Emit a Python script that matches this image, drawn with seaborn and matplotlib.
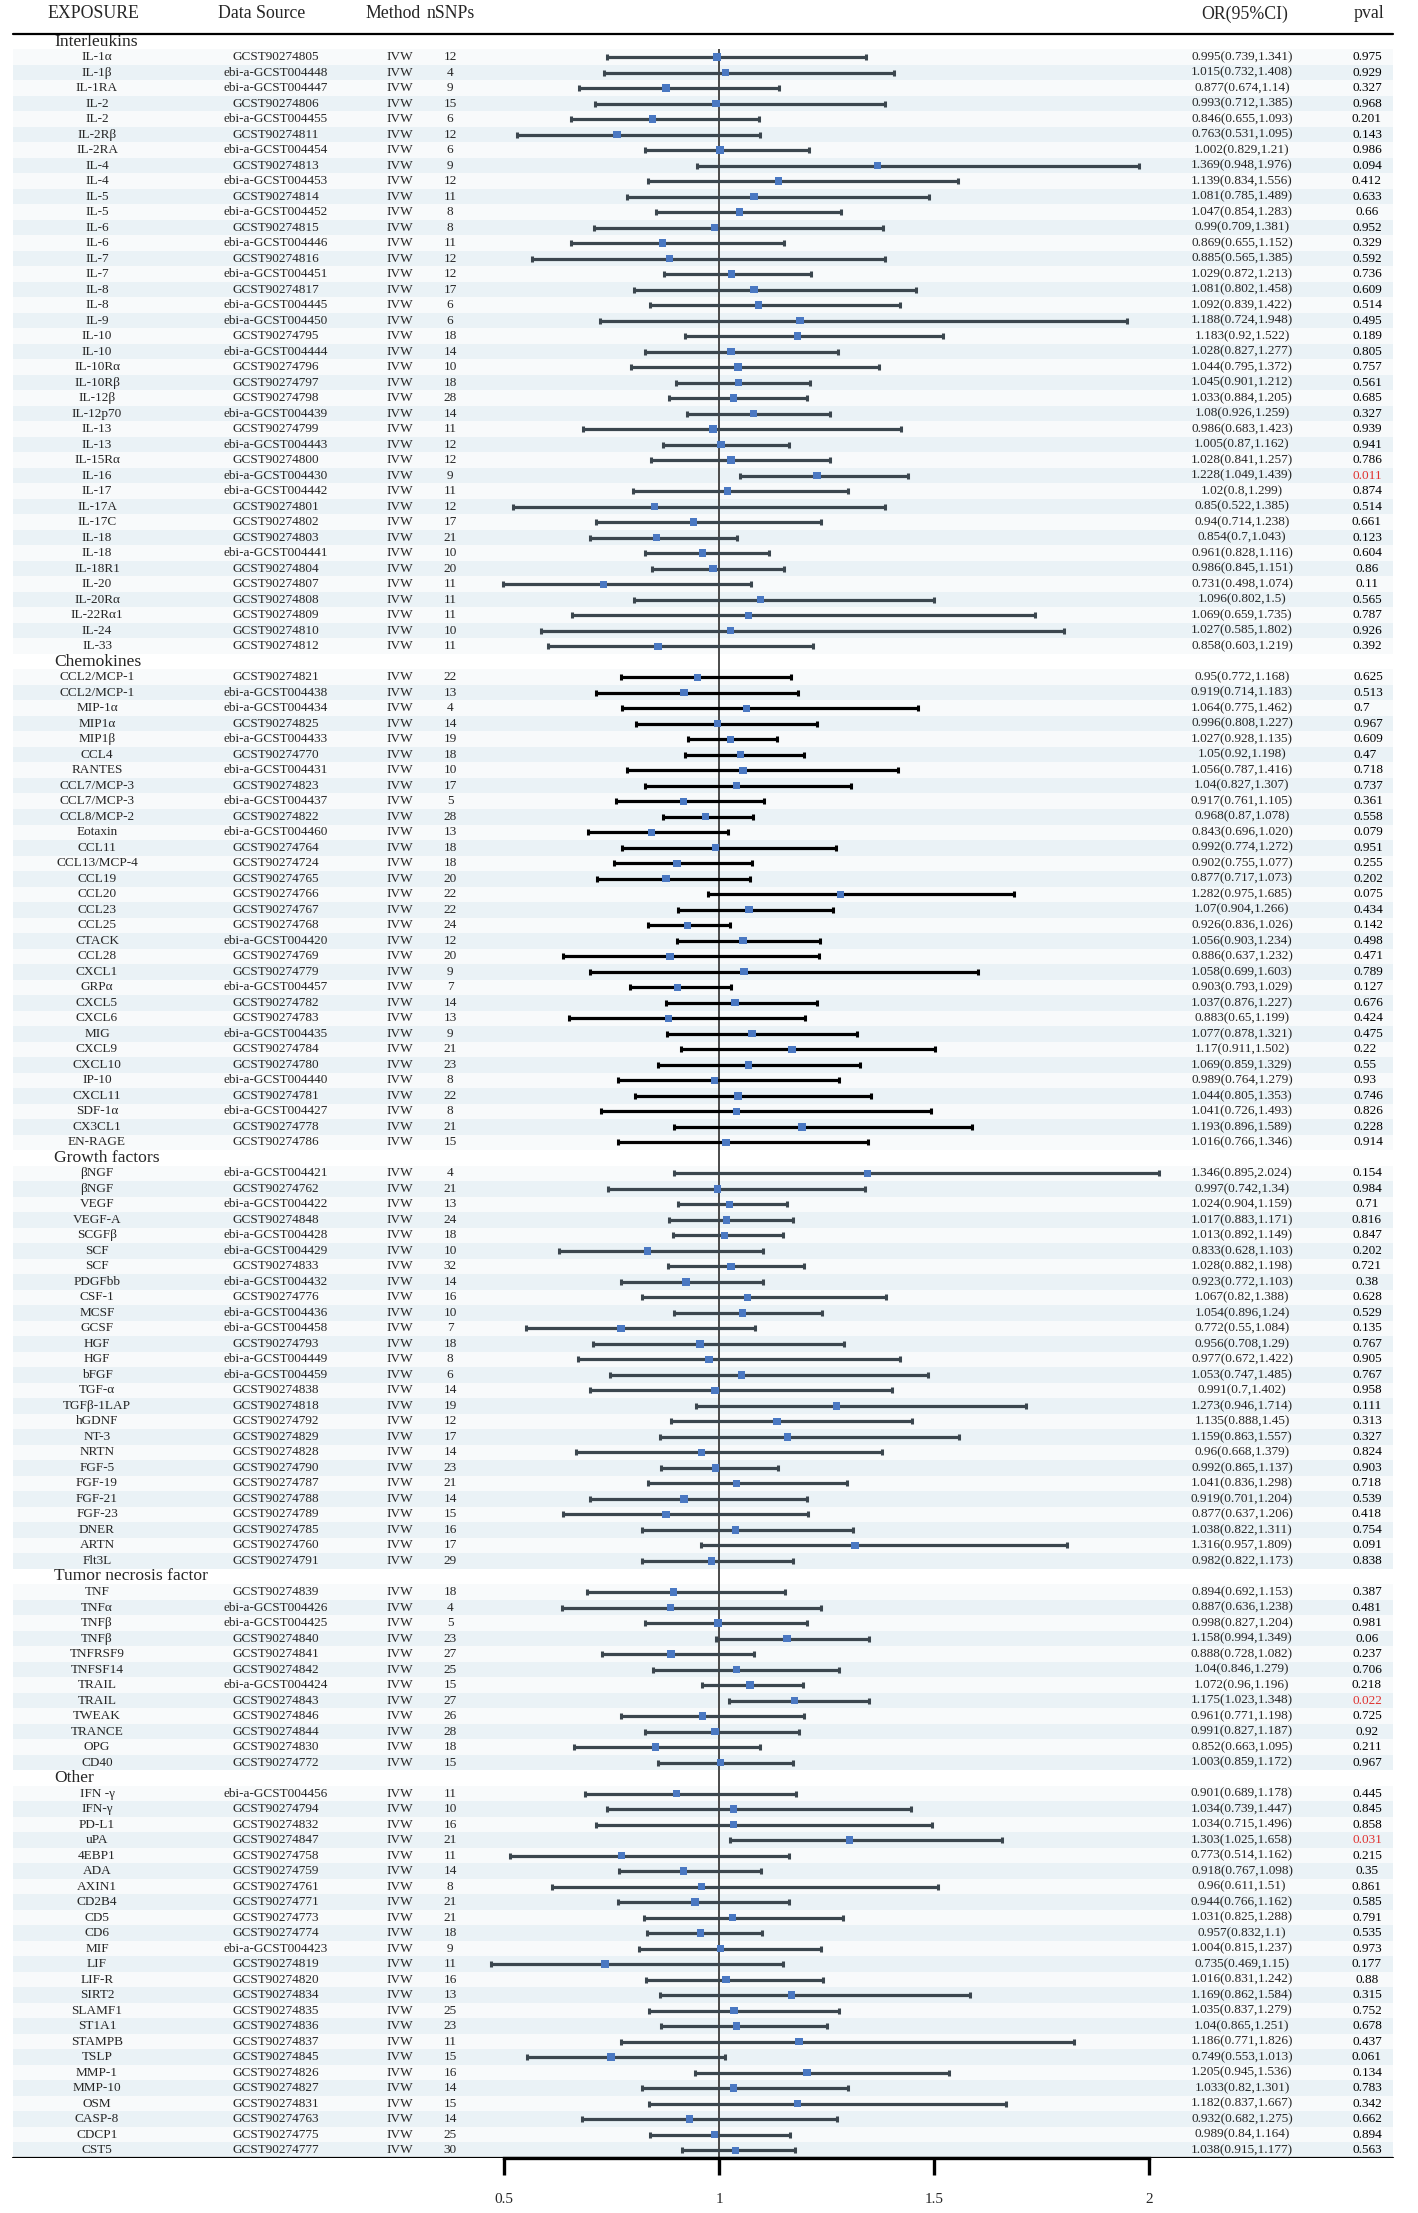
import matplotlib
matplotlib.use("Agg")
import matplotlib.pyplot as plt
import matplotlib.transforms as mtransforms
import pandas as pd
import seaborn as sns

# ---------------------------------------------------------------
# data (one entry per exposure row)
# ---------------------------------------------------------------
section_names = ["Interleukins", "Chemokines", "Growth factors",
                 "Tumor necrosis factor", "Other"]
section_sizes = [39, 31, 26, 12, 24]

exposure = [
    # Interleukins
    "IL-1α", "IL-1β", "IL-1RA", "IL-2", "IL-2", "IL-2Rβ", "IL-2RA", "IL-4", "IL-4",
    "IL-5", "IL-5", "IL-6", "IL-6", "IL-7", "IL-7", "IL-8", "IL-8", "IL-9", "IL-10",
    "IL-10", "IL-10Rα", "IL-10Rβ", "IL-12β", "IL-12p70", "IL-13", "IL-13", "IL-15Rα",
    "IL-16", "IL-17", "IL-17A", "IL-17C", "IL-18", "IL-18", "IL-18R1", "IL-20",
    "IL-20Rα", "IL-22Rα1", "IL-24", "IL-33",
    # Chemokines
    "CCL2/MCP-1", "CCL2/MCP-1", "MIP-1α", "MIP1α", "MIP1β", "CCL4", "RANTES",
    "CCL7/MCP-3", "CCL7/MCP-3", "CCL8/MCP-2", "Eotaxin", "CCL11", "CCL13/MCP-4",
    "CCL19", "CCL20", "CCL23", "CCL25", "CTACK", "CCL28", "CXCL1", "GRPα", "CXCL5",
    "CXCL6", "MIG", "CXCL9", "CXCL10", "IP-10", "CXCL11", "SDF-1α", "CX3CL1", "EN-RAGE",
    # Growth factors
    "βNGF", "βNGF", "VEGF", "VEGF-A", "SCGFβ", "SCF", "SCF", "PDGFbb", "CSF-1", "MCSF",
    "GCSF", "HGF", "HGF", "bFGF", "TGF-α", "TGFβ-1LAP", "hGDNF", "NT-3", "NRTN",
    "FGF-5", "FGF-19", "FGF-21", "FGF-23", "DNER", "ARTN", "Flt3L",
    # Tumor necrosis factor
    "TNF", "TNFα", "TNFβ", "TNFβ", "TNFRSF9", "TNFSF14", "TRAIL", "TRAIL", "TWEAK",
    "TRANCE", "OPG", "CD40",
    # Other
    "IFN -γ", "IFN-γ", "PD-L1", "uPA", "4EBP1", "ADA", "AXIN1", "CD2B4", "CD5", "CD6",
    "MIF", "LIF", "LIF-R", "SIRT2", "SLAMF1", "ST1A1", "STAMPB", "TSLP", "MMP-1",
    "MMP-10", "OSM", "CASP-8", "CDCP1", "CST5",
]

data_source = [
    "GCST90274805", "ebi-a-GCST004448", "ebi-a-GCST004447", "GCST90274806",
    "ebi-a-GCST004455", "GCST90274811", "ebi-a-GCST004454", "GCST90274813",
    "ebi-a-GCST004453", "GCST90274814", "ebi-a-GCST004452", "GCST90274815",
    "ebi-a-GCST004446", "GCST90274816", "ebi-a-GCST004451", "GCST90274817",
    "ebi-a-GCST004445", "ebi-a-GCST004450", "GCST90274795", "ebi-a-GCST004444",
    "GCST90274796", "GCST90274797", "GCST90274798", "ebi-a-GCST004439",
    "GCST90274799", "ebi-a-GCST004443", "GCST90274800", "ebi-a-GCST004430",
    "ebi-a-GCST004442", "GCST90274801", "GCST90274802", "GCST90274803",
    "ebi-a-GCST004441", "GCST90274804", "GCST90274807", "GCST90274808",
    "GCST90274809", "GCST90274810", "GCST90274812",
    "GCST90274821", "ebi-a-GCST004438", "ebi-a-GCST004434", "GCST90274825",
    "ebi-a-GCST004433", "GCST90274770", "ebi-a-GCST004431", "GCST90274823",
    "ebi-a-GCST004437", "GCST90274822", "ebi-a-GCST004460", "GCST90274764",
    "GCST90274724", "GCST90274765", "GCST90274766", "GCST90274767", "GCST90274768",
    "ebi-a-GCST004420", "GCST90274769", "GCST90274779", "ebi-a-GCST004457",
    "GCST90274782", "GCST90274783", "ebi-a-GCST004435", "GCST90274784",
    "GCST90274780", "ebi-a-GCST004440", "GCST90274781", "ebi-a-GCST004427",
    "GCST90274778", "GCST90274786",
    "ebi-a-GCST004421", "GCST90274762", "ebi-a-GCST004422", "GCST90274848",
    "ebi-a-GCST004428", "ebi-a-GCST004429", "GCST90274833", "ebi-a-GCST004432",
    "GCST90274776", "ebi-a-GCST004436", "ebi-a-GCST004458", "GCST90274793",
    "ebi-a-GCST004449", "ebi-a-GCST004459", "GCST90274838", "GCST90274818",
    "GCST90274792", "GCST90274829", "GCST90274828", "GCST90274790", "GCST90274787",
    "GCST90274788", "GCST90274789", "GCST90274785", "GCST90274760", "GCST90274791",
    "GCST90274839", "ebi-a-GCST004426", "ebi-a-GCST004425", "GCST90274840",
    "GCST90274841", "GCST90274842", "ebi-a-GCST004424", "GCST90274843",
    "GCST90274846", "GCST90274844", "GCST90274830", "GCST90274772",
    "ebi-a-GCST004456", "GCST90274794", "GCST90274832", "GCST90274847",
    "GCST90274758", "GCST90274759", "GCST90274761", "GCST90274771", "GCST90274773",
    "GCST90274774", "ebi-a-GCST004423", "GCST90274819", "GCST90274820",
    "GCST90274834", "GCST90274835", "GCST90274836", "GCST90274837", "GCST90274845",
    "GCST90274826", "GCST90274827", "GCST90274831", "GCST90274763", "GCST90274775",
    "GCST90274777",
]

nsnps = [
    12, 4, 9, 15, 6, 12, 6, 9, 12, 11, 8, 8, 11, 12, 12, 17, 6, 6, 18, 14, 10, 18, 28,
    14, 11, 12, 12, 9, 11, 12, 17, 21, 10, 20, 11, 11, 11, 10, 11,
    22, 13, 4, 14, 19, 18, 10, 17, 5, 28, 13, 18, 18, 20, 22, 22, 24, 12, 20, 9, 7, 14,
    13, 9, 21, 23, 8, 22, 8, 21, 15,
    4, 21, 13, 24, 18, 10, 32, 14, 16, 10, 7, 18, 8, 6, 14, 19, 12, 17, 14, 23, 21, 14,
    15, 16, 17, 29,
    18, 4, 5, 23, 27, 25, 15, 27, 26, 28, 18, 15,
    11, 10, 16, 21, 11, 14, 8, 21, 21, 18, 9, 11, 16, 13, 25, 23, 11, 15, 16, 14, 15,
    14, 25, 30,
]

# kept as text so the printed labels keep their exact digits
or_est = [
    "0.995", "1.015", "0.877", "0.993", "0.846", "0.763", "1.002", "1.369", "1.139",
    "1.081", "1.047", "0.99", "0.869", "0.885", "1.029", "1.081", "1.092", "1.188",
    "1.183", "1.028", "1.044", "1.045", "1.033", "1.08", "0.986", "1.005", "1.028",
    "1.228", "1.02", "0.85", "0.94", "0.854", "0.961", "0.986", "0.731", "1.096",
    "1.069", "1.027", "0.858",
    "0.95", "0.919", "1.064", "0.996", "1.027", "1.05", "1.056", "1.04", "0.917",
    "0.968", "0.843", "0.992", "0.902", "0.877", "1.282", "1.07", "0.926", "1.056",
    "0.886", "1.058", "0.903", "1.037", "0.883", "1.077", "1.17", "1.069", "0.989",
    "1.044", "1.041", "1.193", "1.016",
    "1.346", "0.997", "1.024", "1.017", "1.013", "0.833", "1.028", "0.923", "1.067",
    "1.054", "0.772", "0.956", "0.977", "1.053", "0.991", "1.273", "1.135", "1.159",
    "0.96", "0.992", "1.041", "0.919", "0.877", "1.038", "1.316", "0.982",
    "0.894", "0.887", "0.998", "1.158", "0.888", "1.04", "1.072", "1.175", "0.961",
    "0.991", "0.852", "1.003",
    "0.901", "1.034", "1.034", "1.303", "0.773", "0.918", "0.96", "0.944", "1.031",
    "0.957", "1.004", "0.735", "1.016", "1.169", "1.035", "1.04", "1.186", "0.749",
    "1.205", "1.033", "1.182", "0.932", "0.989", "1.038",
]
ci_low = [
    "0.739", "0.732", "0.674", "0.712", "0.655", "0.531", "0.829", "0.948", "0.834",
    "0.785", "0.854", "0.709", "0.655", "0.565", "0.872", "0.802", "0.839", "0.724",
    "0.92", "0.827", "0.795", "0.901", "0.884", "0.926", "0.683", "0.87", "0.841",
    "1.049", "0.8", "0.522", "0.714", "0.7", "0.828", "0.845", "0.498", "0.802",
    "0.659", "0.585", "0.603",
    "0.772", "0.714", "0.775", "0.808", "0.928", "0.92", "0.787", "0.827", "0.761",
    "0.87", "0.696", "0.774", "0.755", "0.717", "0.975", "0.904", "0.836", "0.903",
    "0.637", "0.699", "0.793", "0.876", "0.65", "0.878", "0.911", "0.859", "0.764",
    "0.805", "0.726", "0.896", "0.766",
    "0.895", "0.742", "0.904", "0.883", "0.892", "0.628", "0.882", "0.772", "0.82",
    "0.896", "0.55", "0.708", "0.672", "0.747", "0.7", "0.946", "0.888", "0.863",
    "0.668", "0.865", "0.836", "0.701", "0.637", "0.822", "0.957", "0.822",
    "0.692", "0.636", "0.827", "0.994", "0.728", "0.846", "0.96", "1.023", "0.771",
    "0.827", "0.663", "0.859",
    "0.689", "0.739", "0.715", "1.025", "0.514", "0.767", "0.611", "0.766", "0.825",
    "0.832", "0.815", "0.469", "0.831", "0.862", "0.837", "0.865", "0.771", "0.553",
    "0.945", "0.82", "0.837", "0.682", "0.84", "0.915",
]
ci_high = [
    "1.341", "1.408", "1.14", "1.385", "1.093", "1.095", "1.21", "1.976", "1.556",
    "1.489", "1.283", "1.381", "1.152", "1.385", "1.213", "1.458", "1.422", "1.948",
    "1.522", "1.277", "1.372", "1.212", "1.205", "1.259", "1.423", "1.162", "1.257",
    "1.439", "1.299", "1.385", "1.238", "1.043", "1.116", "1.151", "1.074", "1.5",
    "1.735", "1.802", "1.219",
    "1.168", "1.183", "1.462", "1.227", "1.135", "1.198", "1.416", "1.307", "1.105",
    "1.078", "1.020", "1.272", "1.077", "1.073", "1.685", "1.266", "1.026", "1.234",
    "1.232", "1.603", "1.029", "1.227", "1.199", "1.321", "1.502", "1.329", "1.279",
    "1.353", "1.493", "1.589", "1.346",
    "2.024", "1.34", "1.159", "1.171", "1.149", "1.103", "1.198", "1.103", "1.388",
    "1.24", "1.084", "1.29", "1.422", "1.485", "1.402", "1.714", "1.45", "1.557",
    "1.379", "1.137", "1.298", "1.204", "1.206", "1.311", "1.809", "1.173",
    "1.153", "1.238", "1.204", "1.349", "1.082", "1.279", "1.196", "1.348", "1.198",
    "1.187", "1.095", "1.172",
    "1.178", "1.447", "1.496", "1.658", "1.162", "1.098", "1.51", "1.162", "1.288",
    "1.1", "1.237", "1.15", "1.242", "1.584", "1.279", "1.251", "1.826", "1.013",
    "1.536", "1.301", "1.667", "1.275", "1.164", "1.177",
]
pval = [
    "0.975", "0.929", "0.327", "0.968", "0.201", "0.143", "0.986", "0.094", "0.412",
    "0.633", "0.66", "0.952", "0.329", "0.592", "0.736", "0.609", "0.514", "0.495",
    "0.189", "0.805", "0.757", "0.561", "0.685", "0.327", "0.939", "0.941", "0.786",
    "0.011", "0.874", "0.514", "0.661", "0.123", "0.604", "0.86", "0.11", "0.565",
    "0.787", "0.926", "0.392",
    "0.625", "0.513", "0.7", "0.967", "0.609", "0.47", "0.718", "0.737", "0.361",
    "0.558", "0.079", "0.951", "0.255", "0.202", "0.075", "0.434", "0.142", "0.498",
    "0.471", "0.789", "0.127", "0.676", "0.424", "0.475", "0.22", "0.55", "0.93",
    "0.746", "0.826", "0.228", "0.914",
    "0.154", "0.984", "0.71", "0.816", "0.847", "0.202", "0.721", "0.38", "0.628",
    "0.529", "0.135", "0.767", "0.905", "0.767", "0.958", "0.111", "0.313", "0.327",
    "0.824", "0.903", "0.718", "0.539", "0.418", "0.754", "0.091", "0.838",
    "0.387", "0.481", "0.981", "0.06", "0.237", "0.706", "0.218", "0.022", "0.725",
    "0.92", "0.211", "0.967",
    "0.445", "0.845", "0.858", "0.031", "0.215", "0.35", "0.861", "0.585", "0.791",
    "0.535", "0.973", "0.177", "0.88", "0.315", "0.752", "0.678", "0.437", "0.061",
    "0.134", "0.783", "0.342", "0.662", "0.894", "0.563",
]

x_ticks = [0.5, 1, 1.5, 2]
x_tick_labels = ["0.5", "1", "1.5", "2"]
col_headers = ["EXPOSURE", "Data Source", "Method", "nSNPs", "OR(95%CI)", "pval"]

# ---------------------------------------------------------------
# table layout: header row + data rows per section
# ---------------------------------------------------------------
rows, sec, k_in_sec, header_rows = [], [], [], []
r = 0
for name, n in zip(section_names, section_sizes):
    header_rows.append(r)
    r += 1
    for k in range(1, n + 1):
        rows.append(r)
        sec.append(name)
        k_in_sec.append(k)
        r += 1
n_rows = r

df = pd.DataFrame({
    "row": rows, "section": sec, "k": k_in_sec,
    "exposure": exposure, "source": data_source, "nsnp": nsnps,
    "est_s": or_est, "low_s": ci_low, "high_s": ci_high, "pval": pval,
})
df["est"] = df["est_s"].astype(float)
df["low"] = df["low_s"].astype(float)
df["high"] = df["high_s"].astype(float)

W, H = 1418, 2213
ROW_PX = 15.505
X_ONE_PX, PX_PER_UNIT = 719, 430

sns.set_theme(style="white")
plt.rcParams["font.family"] = ["Liberation Serif", "DejaVu Serif"]

fig = plt.figure(figsize=(W / 100, H / 100), dpi=100)
top_r = -41.5 / ROW_PX
bot_r = n_rows - 0.5
ax_h = (bot_r - top_r) * ROW_PX / H
ax = fig.add_axes([0, 1 - ax_h, 1, ax_h])
ax.set_facecolor("none")

# background stripes
x0f, x1f = 13 / W, 1393 / W
for _, d in df.iterrows():
    c = "#EAF2F6" if d["k"] % 2 == 0 else "#F8FAFB"
    ax.axhspan(d["row"] - 0.5, d["row"] + 0.5, xmin=x0f, xmax=x1f,
               color=c, lw=0, zorder=0)

ax.axhline(-0.5, xmin=x0f, xmax=x1f, color="black", lw=1.6, zorder=4)
ax.axhline(bot_r, xmin=x0f, xmax=x1f, color="black", lw=1.6, zorder=4)
ax.vlines(1, 0.5, bot_r, color="#4a4a4a", lw=1.4, zorder=1)

# confidence intervals
for name in section_names:
    sub = df[df["section"] == name]
    col = "black" if name == "Chemokines" else "#3B464E"
    ax.errorbar(sub["est"], sub["row"],
                xerr=[sub["est"] - sub["low"], sub["high"] - sub["est"]],
                fmt="none", ecolor=col, elinewidth=2.3, capsize=2.2,
                capthick=2.2, zorder=2)

sns.scatterplot(data=df, x="est", y="row", marker="s", s=28, color="#4A78C2",
                edgecolor="none", linewidth=0, ax=ax, zorder=3, legend=False)

ax.set_xlim(1 - X_ONE_PX / PX_PER_UNIT, 1 + (W - X_ONE_PX) / PX_PER_UNIT)
ax.set_ylim(bot_r, top_r)
ax.set_xlabel("")
ax.set_ylabel("")
ax.set_yticks([])
ax.grid(False)
for s in ["top", "left", "right"]:
    ax.spines[s].set_visible(False)
ax.spines["bottom"].set_bounds(0.5, 2)
ax.spines["bottom"].set_linewidth(2.4)
ax.spines["bottom"].set_color("black")
ax.set_xticks(x_ticks)
ax.set_xticklabels(x_tick_labels)
ax.tick_params(axis="x", direction="out", length=12, width=2.4, pad=13,
               labelsize=11, color="black", bottom=True)

# text columns
tr = mtransforms.blended_transform_factory(fig.transFigure, ax.transData)
fs = 9.5
hdr_y = (14 - 41.5) / ROW_PX
hdr_x = [93, 262, 393, 451, 1245, 1369]
for label, xp in zip(col_headers, hdr_x):
    ax.text(xp / W, hdr_y, label, ha="center", va="center", fontsize=12.8,
            transform=tr)

for name, hr in zip(section_names, header_rows):
    ax.text(54 / W, hr, name, ha="left", va="center", fontsize=12.6, transform=tr)

for _, d in df.iterrows():
    y = d["row"]
    ax.text(97 / W, y, d["exposure"], ha="center", va="center", fontsize=fs, transform=tr)
    ax.text(276 / W, y, d["source"], ha="center", va="center", fontsize=fs, transform=tr)
    ax.text(400 / W, y, "IVW", ha="center", va="center", fontsize=fs, transform=tr)
    ax.text(450 / W, y, str(d["nsnp"]), ha="center", va="center", fontsize=fs, transform=tr)
    ax.text(1242 / W, y, f"{d['est_s']}({d['low_s']},{d['high_s']})",
            ha="center", va="center", fontsize=fs, transform=tr)
    pc = "#E0312E" if float(d["pval"]) < 0.05 else "black"
    if d["section"] == "Chemokines":
        ax.text(1353 / W, y, d["pval"], ha="left", va="center", fontsize=fs,
                color=pc, transform=tr)
    else:
        ax.text(1367 / W, y, d["pval"], ha="center", va="center", fontsize=fs,
                color=pc, transform=tr)

fig.savefig("out.png", dpi=100, facecolor="white")
